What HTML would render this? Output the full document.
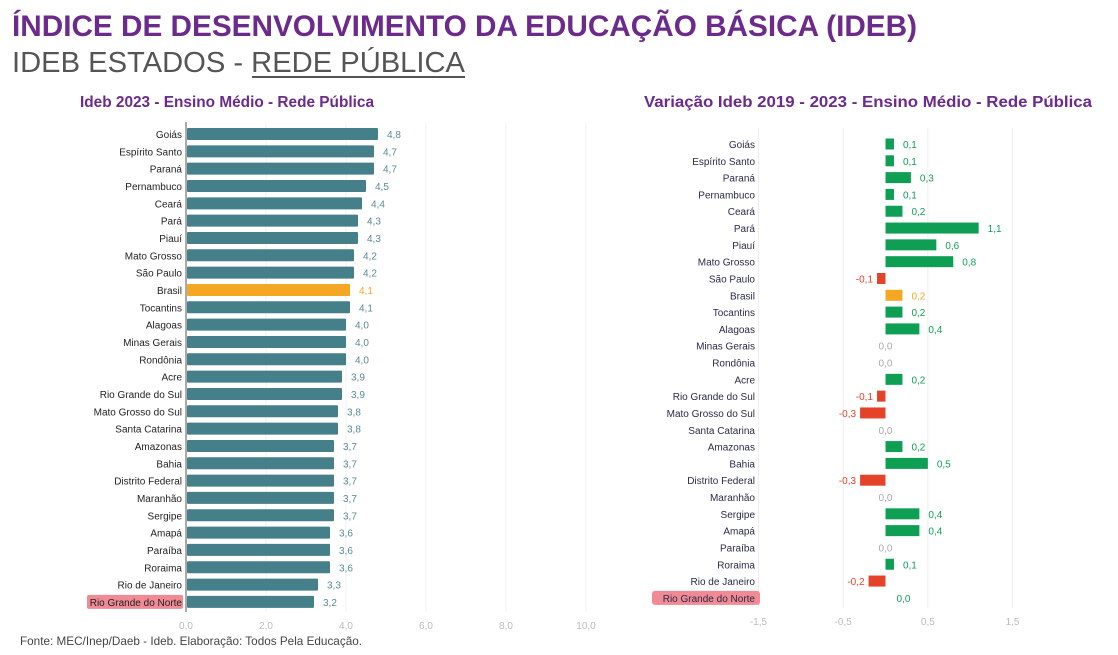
<!DOCTYPE html>
<html><head><meta charset="utf-8"><style>
body{margin:0;background:#fff;width:1118px;height:650px;overflow:hidden;font-family:"Liberation Sans",sans-serif}
</style></head><body>
<svg id="s" width="1118" height="650" xmlns="http://www.w3.org/2000/svg" font-family="Liberation Sans, sans-serif">
<text x="12" y="36" font-size="30" font-weight="bold" fill="#6b2a8c" textLength="905" lengthAdjust="spacingAndGlyphs">ÍNDICE DE DESENVOLVIMENTO DA EDUCAÇÃO BÁSICA (IDEB)</text>
<text x="12" y="72" font-size="29" fill="#555" textLength="453" lengthAdjust="spacingAndGlyphs">IDEB ESTADOS - REDE PÚBLICA</text>
<line x1="252" y1="77" x2="465" y2="77" stroke="#555" stroke-width="2"/>
<text x="80" y="107" font-size="16" font-weight="bold" fill="#6b2a8c" textLength="294" lengthAdjust="spacingAndGlyphs">Ideb 2023 - Ensino Médio - Rede Pública</text>
<text x="644" y="107" font-size="16" font-weight="bold" fill="#6b2a8c" textLength="448" lengthAdjust="spacingAndGlyphs">Variação Ideb 2019 - 2023 - Ensino Médio - Rede Pública</text>
<text x="20" y="645" font-size="12" fill="#444" textLength="342" lengthAdjust="spacingAndGlyphs">Fonte: MEC/Inep/Daeb - Ideb. Elaboração: Todos Pela Educação.</text>
<g id="g"></g>
</svg>
<script>
var L=[["Goiás",4.8],["Espírito Santo",4.7],["Paraná",4.7],["Pernambuco",4.5],["Ceará",4.4],["Pará",4.3],["Piauí",4.3],["Mato Grosso",4.2],["São Paulo",4.2],["Brasil",4.1],["Tocantins",4.1],["Alagoas",4.0],["Minas Gerais",4.0],["Rondônia",4.0],["Acre",3.9],["Rio Grande do Sul",3.9],["Mato Grosso do Sul",3.8],["Santa Catarina",3.8],["Amazonas",3.7],["Bahia",3.7],["Distrito Federal",3.7],["Maranhão",3.7],["Sergipe",3.7],["Amapá",3.6],["Paraíba",3.6],["Roraima",3.6],["Rio de Janeiro",3.3],["Rio Grande do Norte",3.2]];
var R=[["Goiás",.1],["Espírito Santo",.1],["Paraná",.3],["Pernambuco",.1],["Ceará",.2],["Pará",1.1],["Piauí",.6],["Mato Grosso",.8],["São Paulo",-.1],["Brasil",.2],["Tocantins",.2],["Alagoas",.4],["Minas Gerais",0],["Rondônia",0],["Acre",.2],["Rio Grande do Sul",-.1],["Mato Grosso do Sul",-.3],["Santa Catarina",0],["Amazonas",.2],["Bahia",.5],["Distrito Federal",-.3],["Maranhão",0],["Sergipe",.4],["Amapá",.4],["Paraíba",0],["Roraima",.1],["Rio de Janeiro",-.2],["Rio Grande do Norte",0]];
var h="";function f(v){return v.toFixed(1).replace(".",",")}
for(var i=1;i<=5;i++){var x=186+i*80;h+='<line x1="'+x+'" y1="122" x2="'+x+'" y2="612" stroke="#f0f0f0"/>';}
for(var i=0;i<=5;i++){var x=186+i*80;h+='<text x="'+x+'" y="629" font-size="10" fill="#bbb" text-anchor="middle">'+f(i*2)+'</text>';}
L.forEach(function(d,i){var y=134+i*17.33;var c=d[0]=="Brasil"?"#f5a623":"#457f8a";var tc=d[0]=="Brasil"?"#f5a623":"#5a8a94";
if(i==27)h+='<rect x="87" y="'+(y-7)+'" width="96" height="14" fill="#f08a94" rx="2"/>';
h+='<text x="182" y="'+(y+4)+'" font-size="10" fill="#222" text-anchor="end">'+d[0]+'</text>';
h+='<rect x="187" y="'+(y-6)+'" width="'+(d[1]*40-1)+'" height="12" fill="'+c+'" rx="1"/>';
h+='<text x="'+(186+d[1]*40+9)+'" y="'+(y+4)+'" font-size="10" fill="'+tc+'">'+f(d[1])+'</text>';});
h+='<line x1="186" y1="122" x2="186" y2="612" stroke="#555"/>';
var z=885.5,u=84.7;
[-1.5,-.5,.5,1.5].forEach(function(v){var x=z+v*u;h+='<line x1="'+x+'" y1="128" x2="'+x+'" y2="608" stroke="#eee"/>';h+='<text x="'+x+'" y="625" font-size="10" fill="#bbb" text-anchor="middle">'+f(v)+'</text>';});
R.forEach(function(d,i){var y=144+i*16.81;var v=d[1];
if(i==27)h+='<rect x="652" y="'+(y-7)+'" width="108" height="14" fill="#f08a94" rx="3"/>';
h+='<text x="755" y="'+(y+4)+'" font-size="10" fill="#2a2a4a" text-anchor="end">'+d[0]+'</text>';
var c=d[0]=="Brasil"?"#f5a623":(v<0?"#e4432a":"#0e9f55");
if(v>0){h+='<rect x="'+z+'" y="'+(y-5.5)+'" width="'+(v*u)+'" height="11" fill="'+c+'"/>';h+='<text x="'+(z+v*u+9)+'" y="'+(y+4)+'" font-size="10" fill="'+c+'">'+f(v)+'</text>';}
else if(v<0){h+='<rect x="'+(z+v*u)+'" y="'+(y-5.5)+'" width="'+(-v*u)+'" height="11" fill="'+c+'"/>';h+='<text x="'+(z+v*u-4)+'" y="'+(y+4)+'" font-size="10" fill="'+c+'" text-anchor="end">'+f(v)+'</text>';}
else{var gc=i==27?"#0e9f55":"#aaa";h+='<text x="'+(i==27?z+18:z)+'" y="'+(y+4)+'" font-size="10" fill="'+gc+'" text-anchor="middle">0,0</text>';}});
document.getElementById("g").innerHTML=h;
</script>
</body></html>
